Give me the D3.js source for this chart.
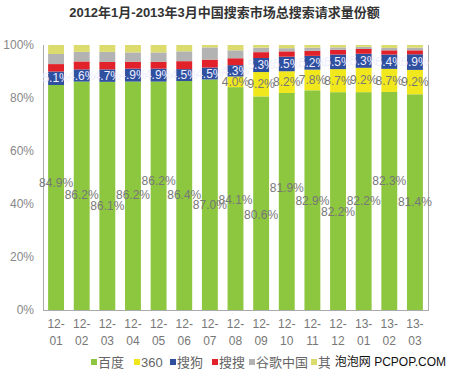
<!DOCTYPE html>
<html>
<head>
<meta charset="utf-8">
<script src="https://cdn.jsdelivr.net/npm/d3@7"></script>
<style>
body { margin: 0; background: #fff; }
text { font-family: "Liberation Sans", "Noto Sans CJK SC", sans-serif; }
</style>
</head>
<body>
<div id="chart"></div>
<script>
var months = ["12-01","12-02","12-03","12-04","12-05","12-06","12-07","12-08",
              "12-09","12-10","12-11","12-12","13-01","13-02","13-03"];
var baidu  = [84.9, 86.2, 86.1, 86.2, 86.2, 86.4, 87.0, 84.1, 80.6, 81.9, 82.9, 82.2, 82.2, 82.3, 81.4];
var s360   = [0, 0, 0, 0, 0, 0, 0, 4.0, 9.2, 8.2, 7.8, 8.7, 9.2, 8.7, 9.2];
var sogou  = [5.1, 4.6, 4.7, 4.9, 4.9, 4.5, 4.5, 4.3, 5.3, 5.5, 5.2, 5.5, 5.3, 5.4, 5.9];
var soso   = [2.8, 3.0, 2.8, 2.6, 2.6, 3.0, 3.0, 2.6, 2.2, 2.0, 1.9, 1.8, 1.8, 1.6, 1.5];
var google = [3.8, 3.6, 3.8, 3.5, 3.5, 3.7, 4.6, 3.0, 1.7, 1.2, 1.2, 0.9, 0.8, 0.9, 1.0];
var other  = [3.4, 2.6, 2.6, 2.8, 2.8, 2.4, 0.9, 2.0, 1.0, 1.2, 1.0, 0.9, 0.7, 1.1, 1.0];
var seriesNames = ["百度", "360", "搜狗", "搜搜", "谷歌中国", "其他"];
var yTicks = [0, 20, 40, 60, 80, 100];

// label stagger for the baidu values (px, from segment middle)
var baiduLabelDy = [-15, -1, 10, -1, -15, -1, 10, 1, 12, -14, 1, 11, 0, -20, 0];

var colors = ["#8dc63f", "#f0e81c", "#2f4f9f", "#e2222a", "#b3b3b3", "#dcdc6e"];
var width = 449, height = 375;
var margin = {top: 45, right: 21, bottom: 65, left: 43};

var rows = months.map(function(m, i) {
    return {month: m, "百度": baidu[i], "360": s360[i], "搜狗": sogou[i],
            "搜搜": soso[i], "谷歌中国": google[i], "其他": other[i]};
});

var svg = d3.select("#chart").append("svg")
    .attr("width", width)
    .attr("height", height);

svg.append("text")
    .attr("x", width / 2)
    .attr("y", 17)
    .attr("text-anchor", "middle")
    .attr("font-size", 13)
    .attr("font-weight", "bold")
    .attr("fill", "#333")
    .text("2012年1月-2013年3月中国搜索市场总搜索请求量份额");

var x = d3.scaleBand()
    .domain(months)
    .range([margin.left, width - margin.right])
    .paddingInner(0.38)
    .paddingOuter(0.2);

var y = d3.scaleLinear()
    .domain([0, 100])
    .range([height - margin.bottom, margin.top]);

var stack = d3.stack().keys(seriesNames)(rows);

var layers = svg.append("g").selectAll("g")
    .data(stack)
    .enter().append("g")
    .attr("fill", function(d, i) { return colors[i]; });

layers.selectAll("rect")
    .data(function(d) { return d; })
    .enter().append("rect")
    .attr("x", function(d) { return x(d.data.month); })
    .attr("y", function(d) { return y(d[1]); })
    .attr("width", x.bandwidth())
    .attr("height", function(d) { return y(d[0]) - y(d[1]); });

// plot frame: left, bottom, right
var frame = svg.append("g").attr("stroke", "#aaa").attr("stroke-width", 1);
frame.append("line")
    .attr("x1", margin.left + 0.5).attr("x2", margin.left + 0.5)
    .attr("y1", y(100)).attr("y2", y(0) + 0.5);
frame.append("line")
    .attr("x1", width - margin.right + 0.5).attr("x2", width - margin.right + 0.5)
    .attr("y1", y(100)).attr("y2", y(0) + 0.5);
frame.append("line")
    .attr("x1", margin.left).attr("x2", width - margin.right + 1)
    .attr("y1", y(0) + 0.5).attr("y2", y(0) + 0.5);

// y axis labels
svg.append("g").selectAll("text")
    .data(yTicks)
    .enter().append("text")
    .attr("x", margin.left - 9)
    .attr("y", function(d) { return y(d); })
    .attr("dy", ".35em")
    .attr("text-anchor", "end")
    .attr("font-size", 12)
    .attr("fill", "#888")
    .text(function(d) { return d + "%"; });

// x axis labels, split in two lines
var xl = svg.append("g").selectAll("text")
    .data(months)
    .enter().append("text")
    .attr("text-anchor", "middle")
    .attr("font-size", 12)
    .attr("fill", "#777");
xl.append("tspan")
    .attr("x", function(d) { return x(d) + x.bandwidth() / 2; })
    .attr("y", y(0) + 18)
    .text(function(d) { return d.split("-")[0] + "-"; });
xl.append("tspan")
    .attr("x", function(d) { return x(d) + x.bandwidth() / 2; })
    .attr("y", y(0) + 35)
    .text(function(d) { return d.split("-")[1]; });

var mid = function(d) { return (y(d[0]) + y(d[1])) / 2; };
var cx = function(d) { return x(d.data.month) + x.bandwidth() / 2; };

// baidu labels
svg.append("g").selectAll("text")
    .data(stack[0])
    .enter().append("text")
    .attr("x", cx)
    .attr("y", function(d, i) { return mid(d) + baiduLabelDy[i]; })
    .attr("dy", ".35em")
    .attr("text-anchor", "middle")
    .attr("font-size", 12)
    .attr("fill", "#777")
    .text(function(d) { return d3.format(".1f")(d[1] - d[0]) + "%"; });

// 360 labels
svg.append("g").selectAll("text")
    .data(stack[1].filter(function(d) { return d[1] - d[0] > 0; }))
    .enter().append("text")
    .attr("x", cx)
    .attr("y", mid)
    .attr("dy", ".35em")
    .attr("text-anchor", "middle")
    .attr("font-size", 12)
    .attr("fill", "#777")
    .text(function(d) { return d3.format(".1f")(d[1] - d[0]) + "%"; });

// sogou labels (white, so they vanish outside the bar)
svg.append("g").selectAll("text")
    .data(stack[2])
    .enter().append("text")
    .attr("x", cx)
    .attr("y", mid)
    .attr("dy", ".35em")
    .attr("text-anchor", "middle")
    .attr("font-size", 12)
    .attr("fill", "#eef")
    .text(function(d) { return d3.format(".1f")(d[1] - d[0]) + "%"; });

// legend
var legendX = [91, 134, 170, 212, 249, 311];
var legend = svg.append("g").selectAll("g")
    .data(seriesNames)
    .enter().append("g")
    .attr("transform", function(d, i) { return "translate(" + legendX[i] + "," + 362 + ")"; });
legend.append("rect")
    .attr("x", 0).attr("y", -3)
    .attr("width", 6).attr("height", 6)
    .attr("fill", function(d, i) { return colors[i]; });
legend.append("text")
    .attr("x", 7)
    .attr("dy", ".35em")
    .attr("font-size", 13)
    .attr("fill", "#666")
    .text(function(d) { return d; });

// site watermark
svg.append("rect")
    .attr("x", 330).attr("y", 353)
    .attr("width", 119).attr("height", 18)
    .attr("fill", "#fff");
svg.append("text")
    .attr("x", 446)
    .attr("y", 362)
    .attr("dy", ".35em")
    .attr("text-anchor", "end")
    .attr("font-size", 12)
    .attr("fill", "#111")
    .text("泡泡网 PCPOP.COM");
</script>
</body>
</html>
